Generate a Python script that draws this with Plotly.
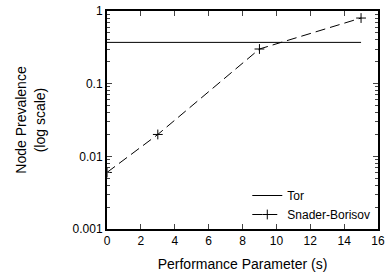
import plotly.graph_objects as go

tor_x = [0, 15]
tor_y = [0.37, 0.37]
sb_x = [0, 3, 9, 15]
sb_y = [0.006, 0.02, 0.30, 0.80]
x_ticks = [0, 2, 4, 6, 8, 10, 12, 14, 16]
y_ticks = [0.001, 0.01, 0.1, 1]
y_tick_labels = ["0.001", "0.01", "0.1", "1"]
y_minor = [m * d for d in (0.001, 0.01, 0.1) for m in range(2, 10)]

fig = go.Figure()
fig.add_trace(go.Scatter(x=tor_x, y=tor_y, mode="lines", name="Tor",
                         line=dict(color="black", width=1)))
fig.add_trace(go.Scatter(x=sb_x, y=sb_y, mode="lines+markers", name="Snader-Borisov",
                         line=dict(color="black", width=1, dash="10px,5px"),
                         marker=dict(symbol="cross-thin", size=7,
                                     line=dict(color="black", width=1))))

font = dict(family="Liberation Sans, Arial, sans-serif", size=12, color="black")
fig.update_layout(
    width=389, height=275,
    margin=dict(l=107, r=11, t=11, b=46, autoexpand=False),
    paper_bgcolor="white", plot_bgcolor="white",
    font=font,
    showlegend=True,
    legend=dict(x=0.99, y=0.0, xanchor="right", yanchor="bottom",
                bgcolor="rgba(0,0,0,0)", font=font, tracegroupgap=0,
                itemwidth=30),
)
fig.update_xaxes(range=[0, 16], tickvals=x_ticks, ticks="inside", ticklen=5,
                 showline=True, linecolor="black", linewidth=2, mirror="ticks",
                 showgrid=False, zeroline=False, automargin=False,
                 title=dict(text="Performance Parameter (s)", standoff=12))
fig.update_yaxes(type="log", range=[-3, 0], tickvals=y_ticks, ticktext=y_tick_labels,
                 ticks="inside", ticklen=5, showline=True, linecolor="black", linewidth=2,
                 mirror="ticks", showgrid=False, zeroline=False, automargin=False,
                 minor=dict(ticks="inside", ticklen=3, tickvals=y_minor, showgrid=False),
                 title=dict(text="Node Prevalence<br>(log scale)", standoff=24))

fig.write_html("out.html", config={"displayModeBar": False},
               post_script="document.body.style.margin='0';document.body.style.overflow='hidden';")
